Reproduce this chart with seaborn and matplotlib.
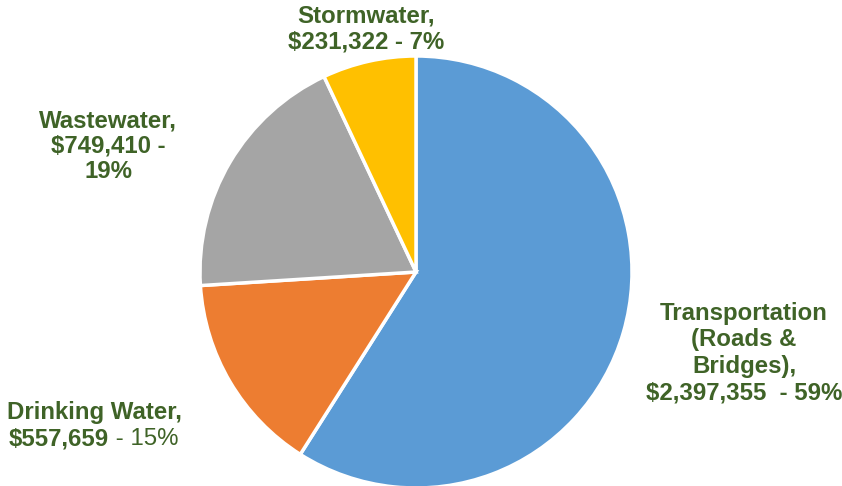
import matplotlib
matplotlib.use("Agg")
import matplotlib.pyplot as plt
import seaborn as sns

categories = ["Transportation (Roads & Bridges)", "Drinking Water", "Wastewater", "Stormwater"]
amounts = ["$2,397,355", "$557,659", "$749,410", "$231,322"]
percents = [59, 15, 19, 7]
colors = ["#5B9BD5", "#ED7D31", "#A5A5A5", "#FFC000"]

sns.set_theme(style="white")
plt.rcParams['font.family'] = ['Liberation Sans', 'DejaVu Sans']

W, H = 842, 486
fig = plt.figure(figsize=(W / 100, H / 100), dpi=100)
ax = fig.add_axes([0, 0, 1, 1])

cx, cy, r = 416, H - 272, 216
ax.pie(percents, colors=colors, startangle=90, counterclock=False,
       center=(cx, cy), radius=r, frame=True,
       wedgeprops=dict(edgecolor="white", linewidth=2.5))
ax.set_xlim(0, W)
ax.set_ylim(0, H)
ax.set_aspect("equal")
ax.axis("off")

green = "#3F6327"
fs = 17.3
kw = dict(color=green, fontsize=fs, fontweight="bold", ha="center", va="center")

ax.text(744, H - 353, "Transportation\n(Roads &\nBridges),\n" + amounts[0] + "  - " + str(percents[0]) + "%",
        linespacing=1.2, **kw)
ax.text(366, H - 29, "Stormwater,\n" + amounts[3] + " - " + str(percents[3]) + "%",
        linespacing=1.2, **kw)
ax.text(108, H - 146, "Wastewater,\n" + amounts[2] + " -\n" + str(percents[2]) + "%",
        linespacing=1.12, **kw)
ax.text(94, H - 412, "Drinking Water,", **kw)
t1 = ax.text(9, H - 439, amounts[1], color=green, fontsize=fs, fontweight="bold",
             ha="left", va="center")
ax.annotate(" - " + str(percents[1]) + "%", xy=(1, 0.5), xycoords=t1,
            color=green, fontsize=fs, fontweight="normal", ha="left", va="center")

fig.savefig("out.png", dpi=100)
